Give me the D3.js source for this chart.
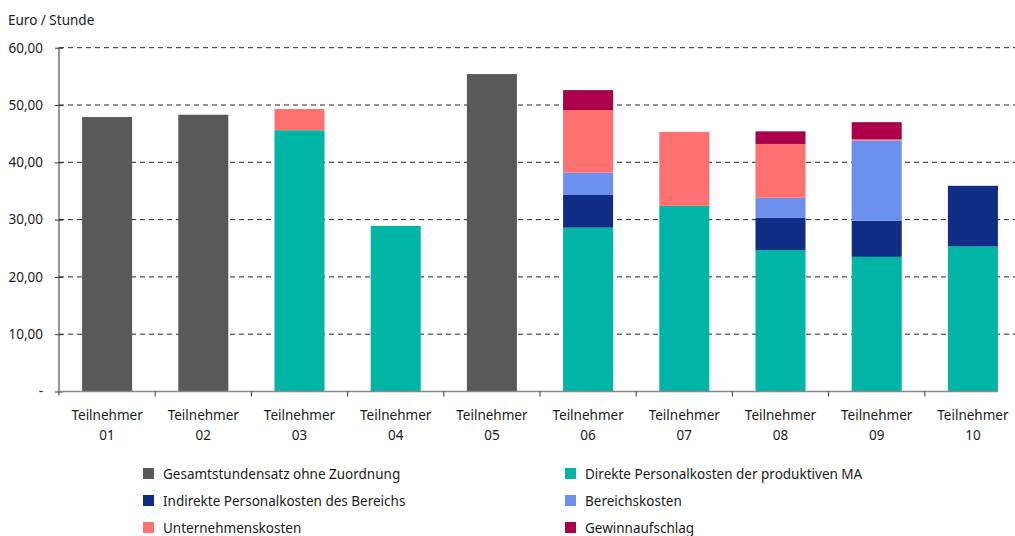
<!DOCTYPE html>
<html>
<head>
<meta charset="utf-8">
<script src="https://cdn.jsdelivr.net/npm/d3@7"></script>
<style>
  body { margin: 0; background: #fff; }
  text { font-family: "Noto Sans", "Open Sans", sans-serif; fill: #1a1a1a; }
</style>
</head>
<body>
<svg id="chart" width="1015" height="536"></svg>
<script>
const categories = ["Teilnehmer 01","Teilnehmer 02","Teilnehmer 03","Teilnehmer 04","Teilnehmer 05",
  "Teilnehmer 06","Teilnehmer 07","Teilnehmer 08","Teilnehmer 09","Teilnehmer 10"];

const seriesNames = ["Gesamtstundensatz ohne Zuordnung", "Direkte Personalkosten der produktiven MA",
  "Indirekte Personalkosten des Bereichs", "Bereichskosten", "Unternehmenskosten", "Gewinnaufschlag"];

const gesamt    = [47.9, 48.3, 0, 0, 55.4, 0, 0, 0, 0, 0];
const direkt    = [0, 0, 45.6, 28.9, 0, 28.6, 32.4, 24.7, 23.5, 25.3];
const indirekt  = [0, 0, 0, 0, 0, 5.7, 0, 5.6, 6.3, 10.6];
const bereich   = [0, 0, 0, 0, 0, 3.9, 0, 3.5, 14.0, 0];
const unternehm = [0, 0, 3.7, 0, 0, 10.9, 12.9, 9.4, 0.2, 0];
const gewinn    = [0, 0, 0, 0, 0, 3.5, 0, 2.2, 3.0, 0];

const yTicks = [0, 10, 20, 30, 40, 50, 60];
const colors = ["#595959", "#00b5a5", "#0f2d84", "#6b8fed", "#ff7070", "#ac004b"];

const allSeries = [gesamt, direkt, indirekt, bereich, unternehm, gewinn];
const rows = categories.map((c, i) => {
  const r = { cat: c };
  seriesNames.forEach((s, k) => r[s] = allSeries[k][i]);
  return r;
});

const svg = d3.select("#chart");
const mLeft = 59, mTop = 47.7, mBottom = 391.5, mRight = 1021;

const x = d3.scaleBand().domain(categories).range([mLeft, mRight]).paddingInner(0.48).paddingOuter(0.24);
const y = d3.scaleLinear().domain([0, 60]).range([mBottom, mTop]);

// gridlines
svg.append("g")
  .selectAll("line")
  .data(yTicks.filter(d => d > 0))
  .enter()
  .append("line")
  .attr("x1", mLeft).attr("x2", 1015)
  .attr("y1", d => y(d)).attr("y2", d => y(d))
  .attr("stroke", "#222")
  .attr("stroke-width", 1)
  .attr("stroke-dasharray", "5,4");

// bars
const stack = d3.stack().keys(seriesNames)(rows);
svg.append("g")
  .selectAll("g")
  .data(stack)
  .enter()
  .append("g")
  .attr("fill", (d, i) => colors[i])
  .selectAll("rect")
  .data(d => d)
  .enter()
  .append("rect")
  .attr("x", d => x(d.data.cat))
  .attr("width", x.bandwidth())
  .attr("y", d => y(d[1]))
  .attr("height", d => y(d[0]) - y(d[1]));

// y axis
const yAxis = svg.append("g")
  .attr("transform", `translate(${mLeft},0)`)
  .call(d3.axisLeft(y).tickValues(yTicks).tickSize(4).tickPadding(12)
    .tickFormat(d => d === 0 ? "-" : d3.format(".2f")(d).replace(".", ",")));
yAxis.select(".domain").attr("stroke", "#333").attr("d", `M0,${mTop}V${mBottom + 4}`);
yAxis.selectAll(".tick line").attr("x1", -4).attr("x2", 4).attr("stroke", "#333");
yAxis.selectAll("text").style("font-size", "13.5px").attr("fill", "#1a1a1a");

// x axis
const xAxis = svg.append("g")
  .attr("transform", `translate(0,${mBottom})`);
xAxis.append("line")
  .attr("x1", mLeft).attr("x2", 998)
  .attr("stroke", "#888").attr("stroke-width", 1.5);
xAxis.selectAll(".sep")
  .data(categories.slice(1))
  .enter()
  .append("line")
  .attr("x1", d => x(d) - x.step() * x.paddingInner() / 2)
  .attr("x2", d => x(d) - x.step() * x.paddingInner() / 2)
  .attr("y1", 0).attr("y2", 5)
  .attr("stroke", "#333");
const lbl = xAxis.selectAll(".lbl")
  .data(categories)
  .enter()
  .append("text")
  .attr("text-anchor", "middle")
  .style("font-size", "13.5px")
  .attr("x", d => x(d) + x.bandwidth() / 2);
lbl.append("tspan").attr("x", d => x(d) + x.bandwidth() / 2).attr("y", 28).text(d => d.split(" ")[0]);
lbl.append("tspan").attr("x", d => x(d) + x.bandwidth() / 2).attr("y", 48).text(d => d.split(" ")[1]);

// axis title
svg.append("text").attr("x", 8).attr("y", 25).style("font-size", "13.5px").text("Euro / Stunde");

// legend
const legendOrder = [0, 1, 2, 3, 4, 5];
const legend = svg.append("g")
  .selectAll("g")
  .data(legendOrder)
  .enter()
  .append("g")
  .attr("transform", (d, i) => `translate(${i % 2 === 0 ? 143 : 565},${468 + Math.floor(i / 2) * 27})`);
legend.append("rect").attr("width", 11).attr("height", 11).attr("fill", d => colors[d]);
legend.append("text").attr("x", 20).attr("y", 10.5).style("font-size", "13.5px").text(d => seriesNames[d]);
</script>
</body>
</html>
